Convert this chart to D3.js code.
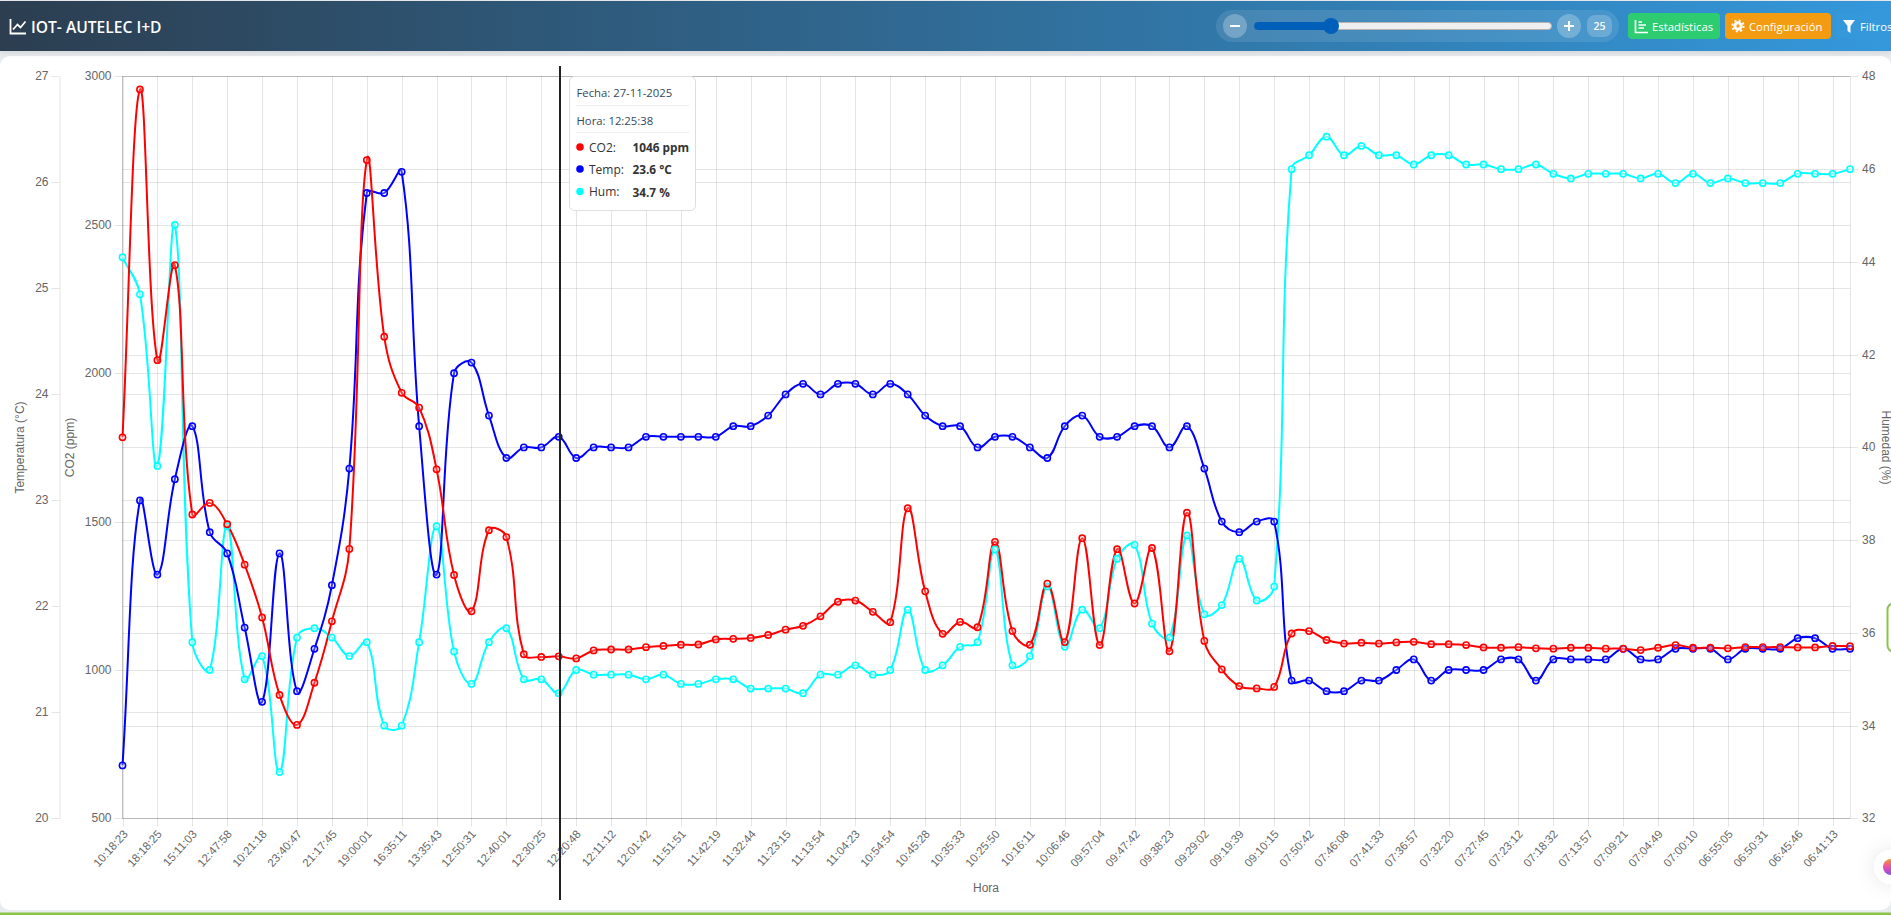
<!DOCTYPE html>
<html lang="es">
<head>
<meta charset="utf-8">
<title>IOT- AUTELEC I+D</title>
<script src="https://cdn.jsdelivr.net/npm/d3@7"></script>
<style>
html,body{margin:0;padding:0;background:#e9ecef;overflow:hidden}
svg{display:block}
.ax text{font:12px "Liberation Sans",Arial,sans-serif;fill:#666}
.ax.xax text{font-size:11.5px}
.ui{font-family:"Open Sans",sans-serif}
</style>
</head>
<body>
<svg id="c" width="1891" height="915"></svg>
<script>
const tickLabels = ["10:18:23","18:18:25","15:11:03","12:47:58","10:21:18","23:40:47","21:17:45","19:00:01","16:35:11","13:35:43","12:50:31","12:40:01","12:30:25","12:20:48","12:11:12","12:01:42","11:51:51","11:42:19","11:32:44","11:23:15","11:13:54","11:04:23","10:54:54","10:45:28","10:35:33","10:25:50","10:16:11","10:06:46","09:57:04","09:47:42","09:38:23","09:29:02","09:19:39","09:10:15","07:50:42","07:46:08","07:41:33","07:36:57","07:32:20","07:27:45","07:23:12","07:18:32","07:13:57","07:09:21","07:04:49","07:00:10","06:55:05","06:50:31","06:45:46","06:41:13"];

const co2 = [1784,2956,2044,2364,1524,1563,1491,1355,1177,916,815,957,1164,1408,2718,2123,1934,1884,1676,1320,1198,1471,1448,1053,1044,1046,1039,1066,1069,1069,1077,1081,1085,1086,1103,1105,1108,1118,1136,1149,1181,1230,1234,1196,1161,1545,1265,1122,1162,1144,1432,1131,1085,1291,1094,1444,1084,1407,1224,1411,1063,1530,1098,1002,946,938,943,1123,1131,1101,1089,1092,1089,1093,1095,1087,1087,1084,1076,1075,1077,1073,1072,1075,1075,1072,1072,1067,1075,1084,1075,1075,1073,1077,1077,1077,1076,1076,1081,1080];

const temp = [20.5,23.0,22.3,23.2,23.7,22.7,22.5,21.8,21.1,22.5,21.2,21.6,22.2,23.3,25.9,25.9,26.1,23.7,22.3,24.2,24.3,23.8,23.4,23.5,23.5,23.6,23.4,23.5,23.5,23.5,23.6,23.6,23.6,23.6,23.6,23.7,23.7,23.8,24.0,24.1,24.0,24.1,24.1,24.0,24.1,24.0,23.8,23.7,23.7,23.5,23.6,23.6,23.5,23.4,23.7,23.8,23.6,23.6,23.7,23.7,23.5,23.7,23.3,22.8,22.7,22.8,22.8,21.3,21.3,21.2,21.2,21.3,21.3,21.4,21.5,21.3,21.4,21.4,21.4,21.5,21.5,21.3,21.5,21.5,21.5,21.5,21.6,21.5,21.5,21.6,21.6,21.6,21.5,21.6,21.6,21.6,21.7,21.7,21.6,21.6];

const hum = [44.1,43.3,39.6,44.8,35.8,35.2,38.3,35.0,35.5,33.0,35.9,36.1,35.9,35.5,35.8,34.0,34.0,35.8,38.3,35.6,34.9,35.8,36.1,35.0,35.0,34.7,35.2,35.1,35.1,35.1,35.0,35.1,34.9,34.9,35.0,35.0,34.8,34.8,34.8,34.7,35.1,35.1,35.3,35.1,35.2,36.5,35.2,35.3,35.7,35.8,37.8,35.3,35.5,37.0,35.7,36.5,36.1,37.6,37.9,36.2,35.9,38.1,36.4,36.6,37.6,36.7,37.0,46.0,46.3,46.7,46.3,46.5,46.3,46.3,46.1,46.3,46.3,46.1,46.1,46.0,46.0,46.1,45.9,45.8,45.9,45.9,45.9,45.8,45.9,45.7,45.9,45.7,45.8,45.7,45.7,45.7,45.9,45.9,45.9,46.0];

const co2Ticks = [500,1000,1500,2000,2500,3000];
const tempTicks = [20,21,22,23,24,25,26,27];
const humTicks = [32,34,36,38,40,42,44,46,48];
const activeIndex = 25;
const tooltipDate = "27-11-2025";
const tooltipTime = "12:25:38";

const L = 122.5, R = 1850, T = 76.4, B = 818.4;
const svg = d3.select("#c");
const defs = svg.append("defs");
const gr = defs.append("linearGradient").attr("id","hdr").attr("x1","0").attr("x2","1").attr("y1","0").attr("y2","0");
gr.append("stop").attr("offset","0").attr("stop-color","#2c3e50");
gr.append("stop").attr("offset","1").attr("stop-color","#3498db");
const blob = defs.append("linearGradient").attr("id","blob").attr("x1","0").attr("x2","0").attr("y1","0").attr("y2","1");
blob.append("stop").attr("offset","0").attr("stop-color","#f7931e");
blob.append("stop").attr("offset",".5").attr("stop-color","#e84fb0");
blob.append("stop").attr("offset","1").attr("stop-color","#8a4fe8");
const sh = defs.append("filter").attr("id","sh").attr("x","-20%").attr("y","-20%").attr("width","140%").attr("height","160%");
sh.append("feDropShadow").attr("dx",0).attr("dy",2).attr("stdDeviation",3).attr("flood-color","#000").attr("flood-opacity",.1);
const sh2 = defs.append("filter").attr("id","sh2").attr("x","-100%").attr("y","-100%").attr("width","300%").attr("height","300%");
sh2.append("feDropShadow").attr("dx",0).attr("dy",0).attr("stdDeviation",10).attr("flood-color","#000").attr("flood-opacity",.1);

/* page frame */
svg.append("rect").attr("x",0).attr("y",56).attr("width",1891).attr("height",854).attr("rx",10).attr("fill","#fff");
svg.append("rect").attr("x",0).attr("y",912.5).attr("width",1891).attr("height",2.5).attr("fill","#8bc34a");

/* scales */
const x = d3.scaleLinear().domain([0,co2.length-1]).range([L,R]);
const yC = d3.scaleLinear().domain([500,3000]).range([B,T]);
const yT = d3.scaleLinear().domain([20,27]).range([B,T]);
const yH = d3.scaleLinear().domain([32,48]).range([B,T]);
const xIdx = tickLabels.map((_,i)=>i*2);
const gridCol = "rgba(0,0,0,0.1)";
const snap = v => Math.round(v)+.5;

/* grid */
const grid = svg.append("g");
grid.selectAll("line.v").data(xIdx).join("line").attr("x1",d=>snap(x(d))).attr("x2",d=>snap(x(d))).attr("y1",T).attr("y2",B).attr("stroke",gridCol);
[[co2Ticks,yC],[tempTicks,yT],[humTicks,yH]].forEach(([t,s])=>{
  grid.append("g").selectAll("line").data(t).join("line")
    .attr("x1",L).attr("x2",R).attr("y1",d=>snap(s(d))).attr("y2",d=>snap(s(d))).attr("stroke",gridCol);
});
grid.append("line").attr("x1",L).attr("x2",L).attr("y1",T).attr("y2",B).attr("stroke","rgba(0,0,0,0.25)");
grid.append("line").attr("x1",R+.5).attr("x2",R+.5).attr("y1",T).attr("y2",B).attr("stroke",gridCol);

function styleAxis(g){ g.selectAll("path.domain").attr("stroke",gridCol); g.selectAll(".tick line").attr("stroke",gridCol); g.attr("font-family",null).attr("font-size",null); }
const plain = d => String(d);
const axT = svg.append("g").attr("class","ax").attr("transform","translate(59.5,0)").call(d3.axisLeft(yT).tickValues(tempTicks).tickFormat(plain).tickSize(8).tickPadding(3).tickSizeOuter(0));
const axC = svg.append("g").attr("class","ax").attr("transform",`translate(${L},0)`).call(d3.axisLeft(yC).tickValues(co2Ticks).tickFormat(plain).tickSize(8).tickPadding(3).tickSizeOuter(0));
const axH = svg.append("g").attr("class","ax").attr("transform",`translate(${R},0)`).call(d3.axisRight(yH).tickValues(humTicks).tickFormat(plain).tickSize(8).tickPadding(4).tickSizeOuter(0));
const axX = svg.append("g").attr("class","ax xax").attr("transform",`translate(0,${B})`).call(d3.axisBottom(x).tickValues(xIdx).tickFormat(d=>tickLabels[d/2]).tickSize(8).tickSizeOuter(0));
[axT,axC,axH,axX].forEach(styleAxis);
axT.selectAll(".tick").attr("transform",d=>`translate(0,${snap(yT(d))})`);
axC.selectAll(".tick").attr("transform",d=>`translate(0,${snap(yC(d))})`);
axH.selectAll(".tick").attr("transform",d=>`translate(0,${snap(yH(d))})`);
axX.selectAll(".tick").attr("transform",d=>`translate(${snap(x(d))},0)`);
axC.select("path.domain").remove();
axH.select("path.domain").remove();
axX.select("path.domain").remove();
axX.selectAll(".tick text").attr("text-anchor","end").attr("dy",null).attr("y",0).attr("x",0)
   .attr("transform","translate(5,16) rotate(-48)");

/* axis titles */
const title = (t,px,py,rot)=>svg.append("text").attr("transform",`translate(${px},${py}) rotate(${rot})`)
  .attr("text-anchor","middle").attr("dominant-baseline","central")
  .attr("font-family","Liberation Sans").attr("font-size",12).attr("fill","#666").text(t);
title("Temperatura (°C)",20,447.5,-90);
title("CO2 (ppm)",69.5,447.5,-90);
title("Humedad (%)",1885.5,447.5,90);
title("Hora",986,888,0);

/* Chart.js-style spline (tension 0.4) as a d3 curve */
function ChartSpline(ctx){ this._c = ctx; }
ChartSpline.prototype = {
  areaStart(){}, areaEnd(){},
  lineStart(){ this._p = []; },
  point(a,b){ this._p.push([+a,+b]); },
  lineEnd(){
    const p = this._p, c = this._c, t = 0.4, n = p.length, cp = [];
    for(let i=0;i<n;i++){
      const a = p[Math.max(i-1,0)], m = p[i], b = p[Math.min(i+1,n-1)];
      const d1 = Math.hypot(m[0]-a[0],m[1]-a[1]), d2 = Math.hypot(b[0]-m[0],b[1]-m[1]);
      let s1 = d1/(d1+d2), s2 = d2/(d1+d2);
      if(isNaN(s1)) s1 = 0; if(isNaN(s2)) s2 = 0;
      const f1 = t*s1, f2 = t*s2;
      cp.push({px:m[0]-f1*(b[0]-a[0]),py:m[1]-f1*(b[1]-a[1]),nx:m[0]+f2*(b[0]-a[0]),ny:m[1]+f2*(b[1]-a[1])});
    }
    c.moveTo(p[0][0],p[0][1]);
    for(let i=1;i<n;i++) c.bezierCurveTo(cp[i-1].nx,cp[i-1].ny,cp[i].px,cp[i].py,p[i][0],p[i][1]);
  }
};
const chartSpline = ctx => new ChartSpline(ctx);

/* series */
const seriesDefs = [
  {vals:hum,  s:yH, col:"#00ffff", fill:"rgba(255,255,255,0.5)"},
  {vals:temp, s:yT, col:"#0000ff", fill:"rgba(255,255,255,0.25)"},
  {vals:co2,  s:yC, col:"#ff0000", fill:"rgba(255,255,255,0.25)"}
];
const lg = svg.append("g");
seriesDefs.forEach(d=>{
  lg.append("path").datum(d.vals).attr("fill","none").attr("stroke",d.col).attr("stroke-width",2)
    .attr("d",d3.line().x((_,i)=>x(i)).y(v=>d.s(v)).curve(chartSpline));
});
seriesDefs.forEach(d=>{
  lg.append("g").selectAll("circle").data(d.vals).join("circle")
    .attr("cx",(_,i)=>x(i)).attr("cy",v=>d.s(v)).attr("r",3.1)
    .attr("fill",d.fill).attr("stroke",d.col).attr("stroke-width",1.6);
});

/* cursor */
svg.append("line").attr("x1",560).attr("x2",560).attr("y1",66).attr("y2",900).attr("stroke","#222").attr("stroke-width",2);

/* tooltip */
const tt = svg.append("g").attr("class","ui");
tt.append("rect").attr("x",569.5).attr("y",76.5).attr("width",126).attr("height",134).attr("rx",5).attr("fill","#fff").attr("stroke","#ddd");
const ttx = (t,px,py,w,col,fs)=>tt.append("text").attr("x",px).attr("y",py).attr("dominant-baseline","central").attr("font-size",fs||12).attr("font-weight",w||500).attr("fill",col||"#34495e").text(t);
ttx("Fecha: "+tooltipDate,576.5,92.5,500,"#34495e",11.3);
tt.append("line").attr("x1",576).attr("x2",689).attr("y1",105.5).attr("y2",105.5).attr("stroke","#eee");
ttx("Hora: "+tooltipTime,576.5,120,500,"#34495e",11.3);
tt.append("line").attr("x1",576).attr("x2",689).attr("y1",132.5).attr("y2",132.5).attr("stroke","#eee");
[["CO2:",co2[activeIndex]+" ppm","#ff0000",147],["Temp:",temp[activeIndex].toFixed(1)+" °C","#0000ff",169],["Hum:",hum[activeIndex].toFixed(1)+" %","#00ffff",191.5]].forEach(r=>{
  tt.append("circle").attr("cx",580).attr("cy",r[3]).attr("r",3.8).attr("fill",r[2]);
  ttx(r[0],589,r[3],500,"#333");
  ttx(r[1],632.5,r[3],700,"#333",11.8);
});

/* header */
const h = svg.append("g").attr("class","ui");
h.append("rect").attr("x",0).attr("y",1).attr("width",1891).attr("height",50).attr("fill","url(#hdr)").attr("filter","url(#sh)");
h.append("path").attr("d","M0 1H1891V51H6Q0 51 0 45Z").attr("fill","url(#hdr)");
h.append("path").attr("d","M10.5 19V33.5H26M13 29.5L17.5 24.5L20.5 27.5L25.5 21.5").attr("fill","none").attr("stroke","#fff").attr("stroke-width",1.8);
h.append("text").attr("x",31).attr("y",27).attr("dominant-baseline","central").attr("font-size",15.6).attr("font-weight",600).attr("fill","#fff").text("IOT- AUTELEC I+D");
h.append("rect").attr("x",1216).attr("y",10).attr("width",403).attr("height",32).attr("rx",16).attr("fill","rgba(255,255,255,0.1)");
[1235,1569].forEach(cx=>h.append("circle").attr("cx",cx).attr("cy",26).attr("r",12).attr("fill","rgba(255,255,255,0.25)"));
h.append("path").attr("d","M1230 26H1240M1564 26H1574M1569 21V31").attr("stroke","#fff").attr("stroke-width",2);
h.append("rect").attr("x",1254.5).attr("y",22.5).attr("width",297).attr("height",7).attr("rx",3.5).attr("fill","#efefef").attr("stroke","#b4b4b4");
h.append("rect").attr("x",1254).attr("y",22).attr("width",78).attr("height",8).attr("rx",4).attr("fill","#0060b9");
h.append("circle").attr("cx",1331).attr("cy",26).attr("r",8).attr("fill","#0060b9");
h.append("rect").attr("x",1587).attr("y",15).attr("width",25).attr("height",22).attr("rx",8).attr("fill","rgba(255,255,255,0.2)");
h.append("text").attr("x",1599.5).attr("y",26).attr("text-anchor","middle").attr("dominant-baseline","central").attr("font-size",10.5).attr("font-weight",600).attr("fill","#fff").text("25");
const btn = (bx,w,col,label,tx)=>{
  h.append("rect").attr("x",bx).attr("y",13).attr("width",w).attr("height",26).attr("rx",4).attr("fill",col);
  h.append("text").attr("x",tx).attr("y",26.5).attr("dominant-baseline","central").attr("font-size",11.3).attr("font-weight",500).attr("fill","#fff").text(label);
};
btn(1628,92,"#2ecc71","Estadísticas",1652);
btn(1725,106,"#f39c12","Configuración",1749);
btn(1836,80,"#3498db","Filtros",1860);
h.append("path").attr("d","M1635.5 20V32.5H1648M1638.5 22H1642M1638.5 25H1646M1638.5 28H1644").attr("fill","none").attr("stroke","#fff").attr("stroke-width",1.7);
h.append("circle").attr("cx",1738).attr("cy",26).attr("r",3.2).attr("fill","none").attr("stroke","#fff").attr("stroke-width",3);
h.append("circle").attr("cx",1738).attr("cy",26).attr("r",5.6).attr("fill","none").attr("stroke","#fff").attr("stroke-width",2).attr("stroke-dasharray","2 2.4");
h.append("path").attr("d","M1843 20H1855L1850.5 26V33L1847.5 31V26Z").attr("fill","#fff");

/* edge widgets */
svg.append("rect").attr("x",1887.5).attr("y",603.5).attr("width",20).attr("height",48).attr("rx",6).attr("fill","#fff").attr("stroke","#8bc34a").attr("stroke-width",2);
svg.append("circle").attr("cx",1891).attr("cy",867).attr("r",17).attr("fill","#fff").attr("filter","url(#sh2)");
svg.append("circle").attr("cx",1891).attr("cy",867).attr("r",8).attr("fill","url(#blob)");
</script>
</body>
</html>
